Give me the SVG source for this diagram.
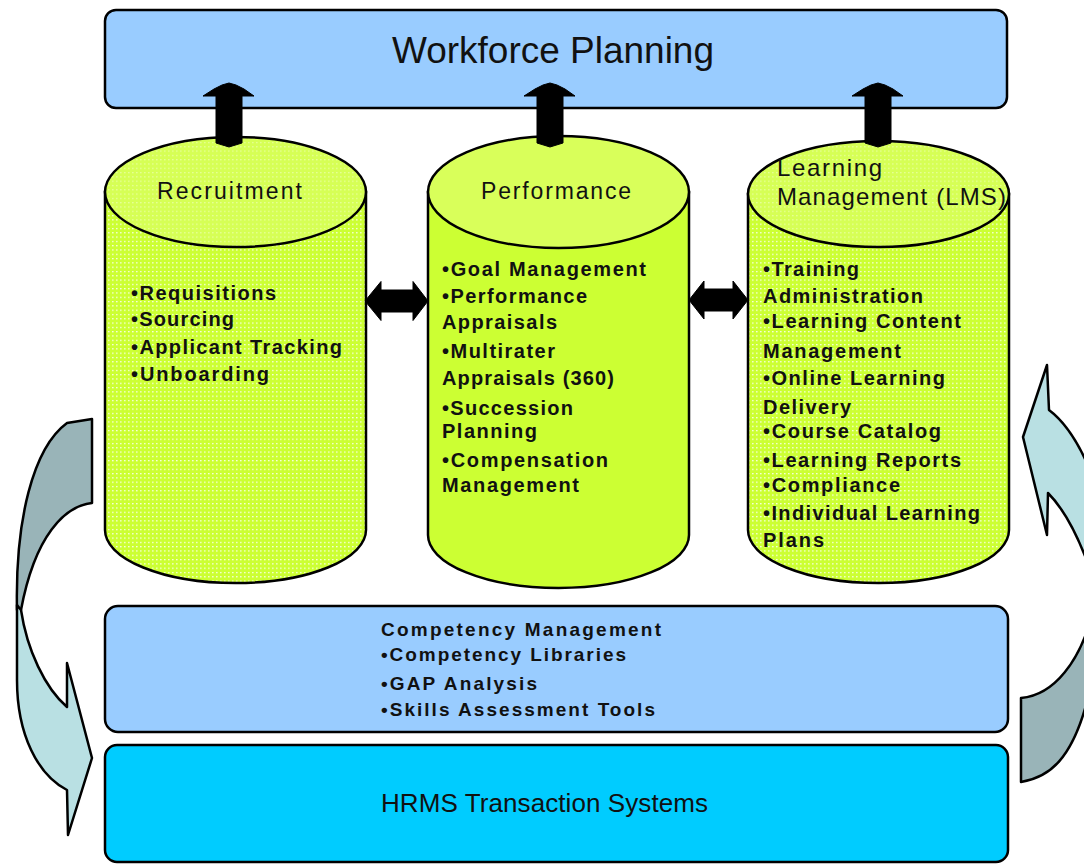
<svg xmlns="http://www.w3.org/2000/svg" width="1084" height="865" viewBox="0 0 1084 865">
<style>
.box{stroke:#000;stroke-width:2.5}
.wf{fill:#99ccff}
.hr{fill:#00ccff}
.cyl{stroke:#000;stroke-width:2.5}
.top{fill:#d9ff5a}
.topd{fill:url(#dotsTop)}
.bodyd{fill:url(#dots)}
.body{fill:#ccff33}
.arrow{fill:#000;stroke:#000;stroke-width:1}
.curve{stroke:#000;stroke-width:2.5;stroke-linejoin:round}
.dark{fill:#99b4b8}
.light{fill:#b9e0e3}
text{font-family:"Liberation Sans",Arial,sans-serif;fill:#111}
.title{font-size:36px}
.hrms{font-size:26px}
.ctitle{font-size:23px}
.ltitle{font-size:24px}
.item{font-size:20px;font-weight:bold}
.comp{font-size:19px;font-weight:bold}
</style>
<defs>
<pattern id="dots" width="4" height="4.3" patternUnits="userSpaceOnUse">
<rect width="4" height="4.3" fill="#ccff33"/>
<rect x="0" y="0" width="1.6" height="1.2" fill="#ffffff" opacity="0.85"/>
</pattern>
<pattern id="dotsTop" width="4" height="4.3" patternUnits="userSpaceOnUse">
<rect width="4" height="4.3" fill="#d6ff55"/>
<rect x="0" y="0" width="1.6" height="1.2" fill="#ffffff" opacity="0.4"/>
</pattern>
<path id="upArrow" d="M-26,96 L-15,89 L-7,85 L0,83 L7,85 L15,89 L25,96 L13,96 L13,143 L0,147 L-13,143 L-13,96 Z"/>
</defs>

<g id="workforce-planning">
<rect class="box wf" x="105" y="10" width="902" height="98" rx="11"/>
<text class="title" x="392" y="63" textLength="322" lengthAdjust="spacingAndGlyphs">Workforce Planning</text>
</g>

<g id="recruitment">
<path class="cyl bodyd" d="M105,192 V530 A130.5,53 0 0 0 366,530 V192 Z"/>
<ellipse class="cyl topd" cx="235.5" cy="192" rx="130.5" ry="55"/>
<text class="ctitle" x="157" y="199" textLength="145" lengthAdjust="spacing">Recruitment</text>
<text class="item" x="131" y="300" textLength="145" lengthAdjust="spacing">•Requisitions</text>
<text class="item" x="131" y="326" textLength="103" lengthAdjust="spacing">•Sourcing</text>
<text class="item" x="131" y="354" textLength="211" lengthAdjust="spacing">•Applicant Tracking</text>
<text class="item" x="131" y="381" textLength="138" lengthAdjust="spacing">•Unboarding</text>
</g>

<g id="performance">
<path class="cyl body" d="M428,192 V535 A130.5,53 0 0 0 689,535 V192 Z"/>
<ellipse class="cyl top" cx="558.5" cy="192" rx="130.5" ry="56"/>
<text class="ctitle" x="481" y="199" textLength="150" lengthAdjust="spacing">Performance</text>
<text class="item" x="442" y="276" textLength="204" lengthAdjust="spacing">•Goal Management</text>
<text class="item" x="442" y="303" textLength="145" lengthAdjust="spacing">•Performance</text>
<text class="item" x="442" y="329" textLength="115" lengthAdjust="spacing">Appraisals</text>
<text class="item" x="442" y="358" textLength="113" lengthAdjust="spacing">•Multirater</text>
<text class="item" x="442" y="385" textLength="172" lengthAdjust="spacing">Appraisals (360)</text>
<text class="item" x="442" y="415" textLength="131" lengthAdjust="spacing">•Succession</text>
<text class="item" x="442" y="438" textLength="95" lengthAdjust="spacing">Planning</text>
<text class="item" x="442" y="467" textLength="166" lengthAdjust="spacing">•Compensation</text>
<text class="item" x="442" y="492" textLength="137" lengthAdjust="spacing">Management</text>
</g>

<g id="learning-management">
<path class="cyl bodyd" d="M748,194 V530 A130.5,53 0 0 0 1009,530 V194 Z"/>
<ellipse class="cyl topd" cx="878.5" cy="194" rx="130.5" ry="53"/>
<text class="ltitle" x="777" y="176" textLength="105" lengthAdjust="spacing">Learning</text>
<text class="ltitle" x="777" y="205" textLength="229" lengthAdjust="spacing">Management (LMS)</text>
<text class="item" x="763" y="276" textLength="96" lengthAdjust="spacing">•Training</text>
<text class="item" x="763" y="303" textLength="160" lengthAdjust="spacing">Administration</text>
<text class="item" x="763" y="328" textLength="198" lengthAdjust="spacing">•Learning Content</text>
<text class="item" x="763" y="358" textLength="138" lengthAdjust="spacing">Management</text>
<text class="item" x="763" y="385" textLength="182" lengthAdjust="spacing">•Online Learning</text>
<text class="item" x="763" y="414" textLength="88" lengthAdjust="spacing">Delivery</text>
<text class="item" x="763" y="438" textLength="178" lengthAdjust="spacing">•Course Catalog</text>
<text class="item" x="763" y="467" textLength="198" lengthAdjust="spacing">•Learning Reports</text>
<text class="item" x="763" y="492" textLength="137" lengthAdjust="spacing">•Compliance</text>
<text class="item" x="763" y="520" textLength="217" lengthAdjust="spacing">•Individual Learning</text>
<text class="item" x="763" y="547" textLength="61" lengthAdjust="spacing">Plans</text>
</g>

<g id="competency-management">
<rect class="box wf" x="105" y="606" width="903" height="126" rx="13"/>
<text class="comp" x="381" y="636" textLength="280" lengthAdjust="spacing">Competency Management</text>
<text class="comp" x="381" y="661" textLength="245" lengthAdjust="spacing">•Competency Libraries</text>
<text class="comp" x="381" y="690" textLength="156" lengthAdjust="spacing">•GAP Analysis</text>
<text class="comp" x="381" y="716" textLength="274" lengthAdjust="spacing">•Skills Assessment Tools</text>
</g>

<g id="hrms">
<rect class="box hr" x="105" y="745" width="903" height="117" rx="12"/>
<text class="hrms" x="381" y="812" textLength="327" lengthAdjust="spacing">HRMS Transaction Systems</text>
</g>

<g id="connectors">
<use href="#upArrow" class="arrow" transform="translate(229,0)"/>
<use href="#upArrow" class="arrow" transform="translate(550,0)"/>
<use href="#upArrow" class="arrow" transform="translate(878,0)"/>
<path class="arrow" d="M365,301 L381,281.5 L381,290 L413,290 L413,281.5 L428,301 L413,320.5 L413,312 L381,312 L381,320.5 Z"/>
<path class="arrow" d="M689,300 L704,281 L704,289 L733,289 L733,281 L748,300 L733,319 L733,311 L704,311 L704,319 Z"/>
<path class="curve dark" d="M67,423 L92,419 L92,503 C65,506 35,535 21,610 L17,610 C15,520 33,448 67,423 Z"/>
<path class="curve light" d="M17,605 L21,610 C27,650 45,688 67,707 L67,663 L92,758 L68,835 L67,790 C38,775 17,735 17,680 Z"/>
<path class="curve light" d="M1047,365 L1049,410 C1065,422 1080,445 1092,475 L1092,575 C1080,540 1065,510 1048,493 L1047,535 L1023,437 Z"/>
<path class="curve dark" d="M1092,615 C1080,660 1055,695 1021,698 L1021,782 C1045,778 1075,765 1092,680 Z"/>
</g>
</svg>
